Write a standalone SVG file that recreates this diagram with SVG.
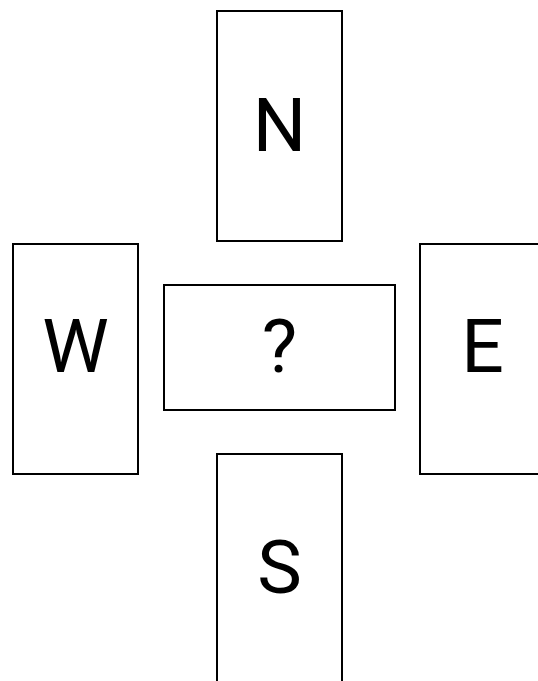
<svg xmlns="http://www.w3.org/2000/svg" width="538" height="681" viewBox="0 0 538 681">
<style>
.box{fill:#fff;stroke:#000;stroke-width:2}
.lbl{font-family:Roboto,"Liberation Sans",sans-serif;font-size:75px;fill:#000;text-anchor:middle}
</style>
<rect width="538" height="681" fill="#fff"/>
<g id="connectors"></g>
<g id="N"><rect class="box" x="217" y="11" width="125" height="230"/><text class="lbl" x="279.5" y="151">N</text></g>
<g id="W"><rect class="box" x="13" y="244" width="125" height="230"/><text class="lbl" x="75.5" y="372">W</text></g>
<g id="center"><rect class="box" x="164" y="285" width="231" height="125"/><text class="lbl" x="279.5" y="372">?</text></g>
<g id="E"><rect class="box" x="420" y="244" width="125" height="230"/><text class="lbl" x="482.5" y="372">E</text></g>
<g id="S"><rect class="box" x="217" y="454" width="125" height="230"/><text class="lbl" x="279.5" y="593">S</text></g>
</svg>
